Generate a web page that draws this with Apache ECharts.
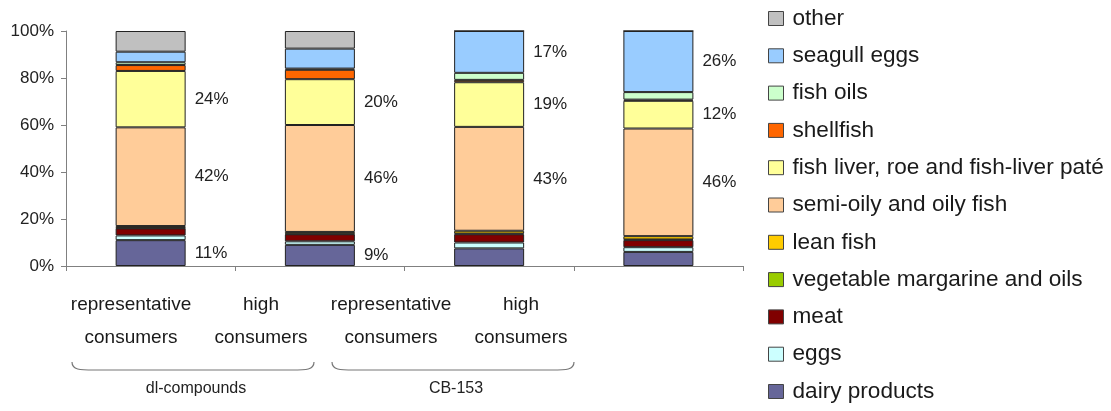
<!DOCTYPE html>
<html>
<head>
<meta charset="utf-8">
<script src="https://cdn.jsdelivr.net/npm/echarts@6/dist/echarts.min.js"></script>
<style>html,body{margin:0;padding:0;background:#fff;}#c{width:1111px;height:411px;}</style>
</head>
<body>
<div id="c"></div>
<script>
const categories = ['representative\nconsumers', 'high\nconsumers', 'representative\nconsumers', 'high\nconsumers'];
const groups = ['dl-compounds', 'CB-153'];

const dairy       = [11, 9, 7.5, 6];
const eggs        = [2, 1.5, 2.5, 2];
const meat        = [3, 3, 3.5, 3];
const vegetable   = [0.2, 0.2, 0.3, 0.3];
const leanFish    = [0.8, 0.8, 1.2, 1.4];
const semiOily    = [42, 45.5, 44.2, 45.8];
const fishLiver   = [24, 19.5, 19, 11.8];
const shellfish   = [2.5, 4, 1, 0.5];
const fishOils    = [1.2, 0.5, 3, 3.2];
const seagullEggs = [4.5, 8.5, 17.8, 26];
const other       = [8.8, 7.5, 0, 0];

const labelDairy   = ['11%', '9%', '', ''];
const labelSemi    = ['42%', '46%', '43%', '46%'];
const labelLiver   = ['24%', '20%', '19%', '12%'];
const labelSeagull = ['', '', '17%', '26%'];

const FONT = "'Liberation Sans', Arial, sans-serif";

const defs = [
  ['dairy products', dairy, '#666699', labelDairy],
  ['eggs', eggs, '#CCFFFF', null],
  ['meat', meat, '#800000', null],
  ['vegetable margarine and oils', vegetable, '#99CC00', null],
  ['lean fish', leanFish, '#FFCC00', null],
  ['semi-oily and oily fish', semiOily, '#FFCC99', labelSemi],
  ['fish liver, roe and fish-liver paté', fishLiver, '#FFFF99', labelLiver],
  ['shellfish', shellfish, '#FF6600', null],
  ['fish oils', fishOils, '#CCFFCC', null],
  ['seagull eggs', seagullEggs, '#99CCFF', labelSeagull],
  ['other', other, '#C0C0C0', null]
];

const catKeys = categories.map((c, i) => 'c' + i);

const series = defs.map(d => ({
  name: d[0],
  type: 'bar',
  stack: 'total',
  xAxisIndex: 0,
  yAxisIndex: 0,
  barWidth: 70,
  data: d[1],
  itemStyle: { color: d[2], borderColor: '#222', borderWidth: 1 },
  label: d[3] ? {
    show: true,
    position: 'right',
    distance: 9,
    color: '#222',
    fontFamily: FONT,
    fontSize: 17,
    formatter: p => d[3][p.dataIndex]
  } : { show: false },
  emphasis: { disabled: true }
}));

// category labels (drawn through the label axis scale)
series.push({
  type: 'custom',
  name: 'catLabels',
  xAxisIndex: 1,
  yAxisIndex: 2,
  data: categories.map((c, i) => [i, 0]),
  silent: true,
  renderItem: function (params, api) {
    const c = api.coord([api.value(0), 0]);
    return {
      type: 'text',
      style: {
        text: categories[params.dataIndex],
        x: c[0], y: c[1],
        align: 'center', verticalAlign: 'top',
        fontFamily: FONT, fontSize: 19, lineHeight: 33,
        fill: '#1a1a1a'
      }
    };
  }
});

series.push({
  type: 'custom',
  name: 'brace',
  xAxisIndex: 2,
  yAxisIndex: 1,
  data: groups.map((g, i) => [i, 0]),
  silent: true,
  renderItem: function (params, api) {
    const c = api.coord([api.value(0), 0]);
    const w = api.size([1, 0])[0];
    const x0 = c[0] - w / 2 + 6, x1 = c[0] + w / 2 - 12;
    const yb = c[1], yt = yb - 8;
    return {
      type: 'path',
      shape: {
        pathData: 'M' + x0 + ' ' + yt + ' C' + x0 + ' ' + yb + ' ' + (x0 + 8) + ' ' + yb + ' ' + (x0 + 22) + ' ' + yb +
          ' L' + (x1 - 22) + ' ' + yb + ' C' + (x1 - 8) + ' ' + yb + ' ' + x1 + ' ' + yb + ' ' + x1 + ' ' + yt
      },
      style: { stroke: '#777', lineWidth: 1.2, fill: null }
    };
  }
});

const chart = echarts.init(document.getElementById('c'), null, { renderer: 'canvas' });
chart.setOption({
  animation: false,
  backgroundColor: '#fff',
  textStyle: { fontFamily: FONT },
  grid: [
    { left: 66, top: 31, width: 677, height: 235 },
    { left: 66, top: 266, width: 520, height: 104 },
    { left: 66, top: 266, width: 520, height: 22 }
  ],
  xAxis: [
    {
      type: 'category', gridIndex: 0, data: catKeys, boundaryGap: true,
      axisLine: { lineStyle: { color: '#808080', width: 1 } },
      axisTick: { show: true, interval: 0, length: 5, lineStyle: { color: '#808080' } },
      axisLabel: { show: false }
    },
    {
      type: 'category', gridIndex: 2, data: catKeys, position: 'bottom',
      axisLine: { show: false }, axisTick: { show: false }, axisLabel: { show: false }
    },
    {
      type: 'category', gridIndex: 1, data: groups, position: 'bottom', offset: 0,
      axisLine: { show: false }, axisTick: { show: false },
      axisLabel: { show: true, interval: 0, margin: 11, color: '#222', fontFamily: FONT, fontSize: 16 }
    }
  ],
  yAxis: [
    {
      type: 'value', gridIndex: 0, min: 0, max: 100, interval: 20,
      axisLine: { show: true, lineStyle: { color: '#808080', width: 1 } },
      axisTick: { show: true, length: 5, lineStyle: { color: '#808080' } },
      splitLine: { show: false },
      axisLabel: { formatter: '{value}%', color: '#222', fontFamily: FONT, fontSize: 17, margin: 12 }
    },
    { type: 'value', gridIndex: 1, min: 0, max: 1, show: false },
    { type: 'value', gridIndex: 2, min: 0, max: 1, show: false }
  ],
  legend: {
    orient: 'vertical',
    left: 768,
    top: 7,
    padding: 0,
    itemWidth: 15,
    itemHeight: 14,
    itemGap: 14.3,
    icon: 'rect',
    data: defs.map(d => d[0]).reverse(),
    itemStyle: { borderColor: '#444', borderWidth: 1 },
    textStyle: { color: '#1a1a1a', fontFamily: FONT, fontSize: 22.6, lineHeight: 22, padding: [0, 0, 0, 4] },
    selectedMode: false
  },
  series: series
});
</script>
</body>
</html>
